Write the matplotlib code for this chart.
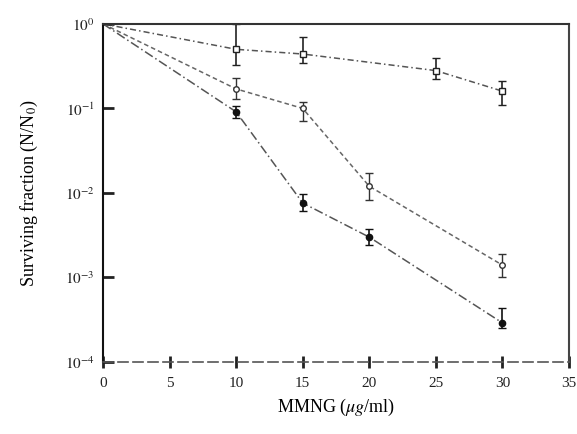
import numpy as np
import matplotlib
matplotlib.use('Agg')
import matplotlib.pyplot as plt

plt.rcParams['font.family'] = 'Liberation Serif'
plt.rcParams['mathtext.fontset'] = 'stix'

# dose (ug/ml) and surviving fractions
dose_a = [0, 10, 15, 25, 30]
surv_a = [1.0, 0.50, 0.44, 0.28, 0.16]
err_lo_a = [0, 0.17, 0.10, 0.06, 0.05]
err_hi_a = [0, 0.50, 0.26, 0.12, 0.05]

dose_b = [0, 10, 15, 20, 30]
surv_b = [1.0, 0.17, 0.10, 0.012, 0.0014]
err_lo_b = [0, 0.04, 0.03, 0.0037, 0.0004]
err_hi_b = [0, 0.06, 0.02, 0.0054, 0.0005]

dose_c = [0, 10, 15, 20, 30]
surv_c = [1.0, 0.091, 0.0076, 0.0030, 0.00029]
err_lo_c = [0, 0.015, 0.0015, 0.0006, 0.00004]
err_hi_c = [0, 0.015, 0.0020, 0.0007, 0.00014]

x_ticks = [0, 5, 10, 15, 20, 25, 30, 35]
y_ticks = [1e0, 1e-1, 1e-2, 1e-3, 1e-4]
y_labels = ['$10^0$', '$10^{-1}$', '$10^{-2}$', '$10^{-3}$', '$10^{-4}$']

fig = plt.figure(figsize=(5.77, 4.34), dpi=100)
ax = fig.add_axes([0.1785, 0.166, 0.8075, 0.779])

# lines
ax.plot(dose_a, surv_a, color='#555555', lw=1.1, ls=(0, (4, 2, 1, 2)))
ax.plot(dose_b, surv_b, color='#666666', lw=1.1, ls=(0, (3, 2)))
ax.plot(dose_c, surv_c, color='#555555', lw=1.1, ls=(0, (6, 2, 1, 2)))

# points with error bars
ax.errorbar(dose_a[1:], surv_a[1:], yerr=[err_lo_a[1:], err_hi_a[1:]], fmt='s',
            ms=4, mfc='white', mec='#222222', ecolor='#222222', elinewidth=1.2, capsize=3)
ax.errorbar(dose_b[1:], surv_b[1:], yerr=[err_lo_b[1:], err_hi_b[1:]], fmt='o',
            ms=4, mfc='white', mec='#333333', ecolor='#333333', elinewidth=1.0, capsize=3)
ax.errorbar(dose_c[1:], surv_c[1:], yerr=[err_lo_c[1:], err_hi_c[1:]], fmt='o',
            ms=4.5, mfc='#111111', mec='#111111', ecolor='#111111', elinewidth=1.2, capsize=3)

ax.set_yscale('log')
ax.set_xlim(0, 35)
ax.set_ylim(1e-4, 1e0)
ax.set_xticks(x_ticks)
ax.set_xticklabels([str(t) for t in x_ticks], fontsize=11)
ax.set_yticks(y_ticks)
ax.set_yticklabels(y_labels, fontsize=11)
ax.minorticks_off()
ax.tick_params(axis='x', direction='inout', length=9, width=2, pad=6, colors='#222222')
ax.tick_params(axis='y', direction='in', length=8, width=2, pad=6, colors='#222222')

ax.spines['left'].set_linewidth(1.5)
ax.spines['left'].set_color('#111111')
ax.spines['top'].set_linewidth(1.5)
ax.spines['top'].set_color('#333333')
ax.spines['right'].set_linewidth(1.5)
ax.spines['right'].set_color('#444444')
ax.spines['bottom'].set_linewidth(1.2)
ax.spines['bottom'].set_color('#555555')
ax.spines['bottom'].set_linestyle((0, (6, 3)))

ax.set_xlabel(r'MMNG ($\mu g$/ml)', fontsize=13, labelpad=5)
ax.set_ylabel(r'Surviving fraction (N/N$_0$)', fontsize=13, labelpad=18)

fig.savefig('out.png', dpi=100)
